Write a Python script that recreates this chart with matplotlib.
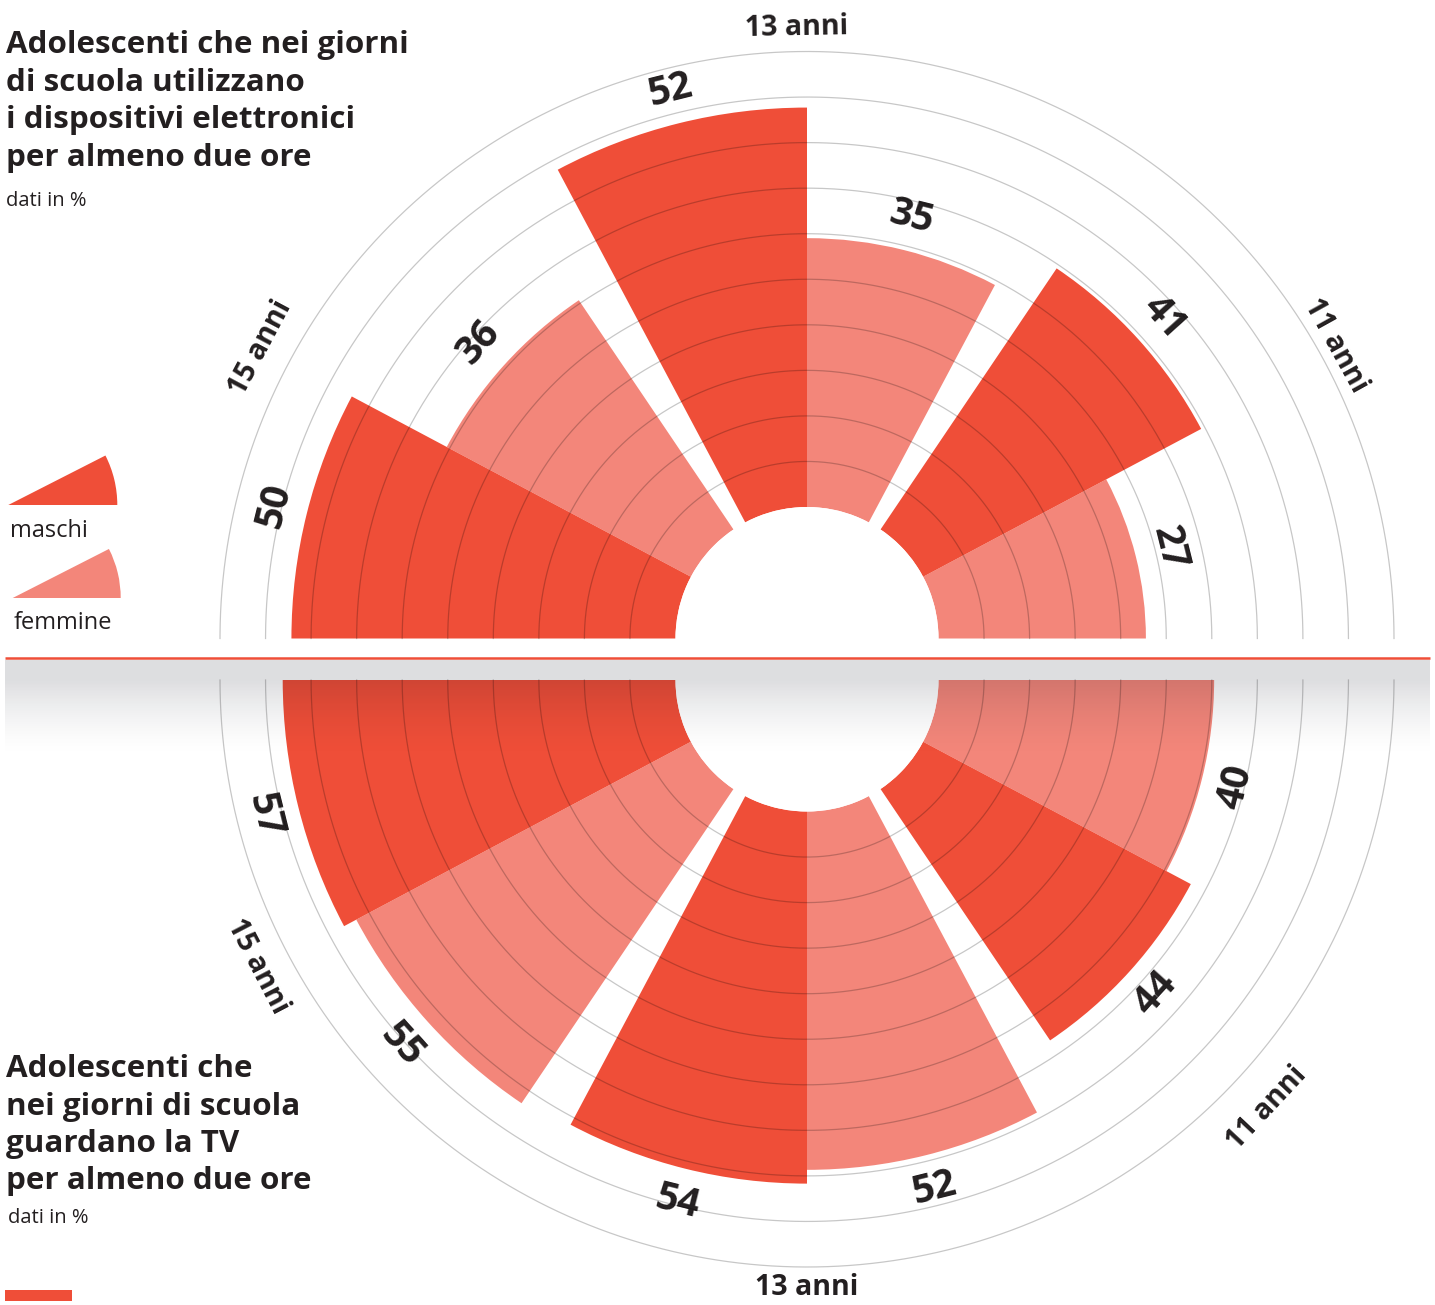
import numpy as np
import matplotlib.pyplot as plt
from matplotlib.patches import Wedge, Rectangle

# values (percent), age groups left to right
ages = ['15 anni', '13 anni', '11 anni']
dev_maschi = [50, 52, 41]
dev_femmine = [36, 35, 27]
tv_maschi = [57, 54, 44]
tv_femmine = [55, 52, 40]

title_dev = ['Adolescenti che nei giorni', 'di scuola utilizzano',
             'i dispositivi elettronici', 'per almeno due ore']
title_tv = ['Adolescenti che', 'nei giorni di scuola',
            'guardano la TV', 'per almeno due ore']
note = 'dati in %'
legend_labels = ['maschi', 'femmine']

RED = '#ef4e38'
PINK = '#f3867a'
INK = '#231f20'
FONT = 'Open Sans'

W, H = 1435, 1305
fig = plt.figure(figsize=(W / 100, H / 100), dpi=100)

CX = 807
HOLE = 131.5   # px radius of the empty centre
OUTER = 587.0  # px radius of the outer ring


def polar_axes(cy, rmax):
    ax = fig.add_axes([(CX - OUTER) / W, (H - cy - OUTER) / H, 2 * OUTER / W, 2 * OUTER / H],
                      projection='polar')
    ax.set_ylim(0, rmax)
    ax.set_rorigin(-rmax * HOLE / (OUTER - HOLE))
    ax.set_facecolor('none')
    ax.axis('off')
    return ax


def draw_half(ax, maschi, femmine, lower, rmax, lab_off, age_offs, age_angles):
    centers = 180 - 28 - 62 * np.arange(3)
    th_m = centers + 14
    th_f = centers - 14
    if lower:
        th_m, th_f = 360 - th_m, 360 - th_f
    w = np.deg2rad(28)
    ax.bar(np.deg2rad(th_f), femmine, width=w, color=PINK, linewidth=0, zorder=2)
    ax.bar(np.deg2rad(th_m), maschi, width=w, color=RED, linewidth=0, zorder=3)

    # concentric rings, drawn over the bars
    t = np.linspace(np.pi, 2 * np.pi, 500) if lower else np.linspace(0, np.pi, 500)
    for r in np.linspace(0, rmax, 11)[1:]:
        ax.plot(t, np.full_like(t, r), color='black', alpha=0.22, lw=0.9,
                zorder=4, clip_on=False)

    def rot(th):
        a = th + 90 if lower else th - 90
        return (a + 180) % 360 - 180

    for th, v in zip(np.r_[th_m, th_f], list(maschi) + list(femmine)):
        ax.text(np.deg2rad(th), v + lab_off, str(v), rotation=rot(th), rotation_mode='anchor',
                ha='center', va='center', fontsize=28, fontweight='bold', color=INK,
                family=FONT)
    for th, off, lab in zip(age_angles, age_offs, ages):
        ax.text(np.deg2rad(th), rmax + off, lab, rotation=rot(th), rotation_mode='anchor',
                ha='center', va='center', fontsize=20.5, fontweight='bold', color=INK,
                family=FONT)


ax_top = polar_axes(638.5, 59.3)
draw_half(ax_top, dev_maschi, dev_femmine, False, 59.3, 4.4, [4.2, 3.1, 2.3], [152, 91, 29])

ax_bot = polar_axes(680, 66.1)
draw_half(ax_bot, tv_maschi, tv_femmine, True, 66.1, 5.0, [4.7, 3.0, 6.0], [207.5, 270, 317])

# overlay in pixel coordinates
ov = fig.add_axes([0, 0, 1, 1], zorder=10)
ov.set_xlim(0, W)
ov.set_ylim(H, 0)
ov.axis('off')
ov.patch.set_alpha(0)

# shadow band under the divider
yy = np.linspace(0, 1, 120)
alpha = np.where(yy < 0.2, 1.0, 1 - np.clip((yy - 0.2) / 0.8, 0, 1))
alpha = 0.14 * alpha ** 1.6
band = np.zeros((len(yy), 1, 4))
band[..., 0] = 0.05
band[..., 1] = 0.06
band[..., 2] = 0.12
band[:, 0, 3] = alpha
ov.imshow(band, extent=(5, 1430, 760, 660), aspect='auto', interpolation='bilinear', zorder=1)
ov.plot([5, 1430], [658, 658], color=RED, lw=1.8, solid_capstyle='butt', zorder=2)

for i, line in enumerate(title_dev):
    ov.text(6, 53.3 + i * 37.5, line, fontsize=22.6, fontweight='bold', color=INK,
            family=FONT, va='baseline')
ov.text(6, 206, note, fontsize=14.5, color=INK, family=FONT, va='baseline')

for i, line in enumerate(title_tv):
    ov.text(6, 1077.3 + i * 37.4, line, fontsize=22.6, fontweight='bold', color=INK,
            family=FONT, va='baseline')
ov.text(8, 1223, note, fontsize=14.5, color=INK, family=FONT, va='baseline')

# legend
ov.add_patch(Wedge((8.3, 505), 109, -27, 0, color=RED, lw=0))
ov.add_patch(Wedge((12.7, 598), 108, -27, 0, color=PINK, lw=0))
ov.text(10, 537, legend_labels[0], fontsize=17, color=INK, family=FONT, va='baseline')
ov.text(14, 629, legend_labels[1], fontsize=17, color=INK, family=FONT, va='baseline')

ov.add_patch(Rectangle((5, 1290), 67, 11, color=RED, lw=0))

fig.savefig('out.png', dpi=100)
